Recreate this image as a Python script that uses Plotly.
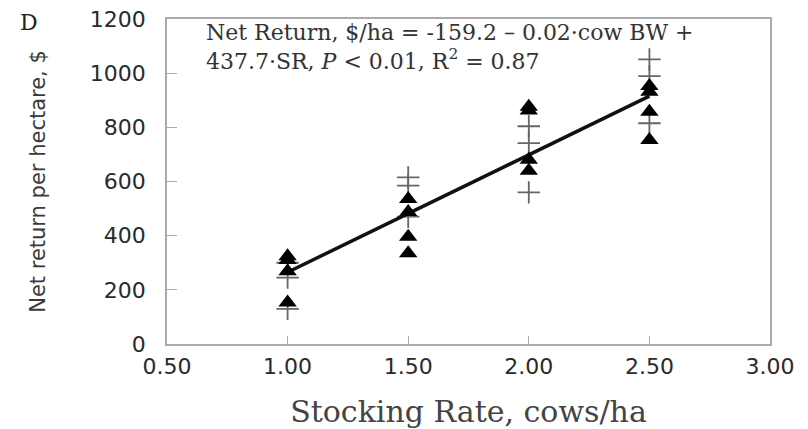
import plotly.graph_objects as go

# ---- data ----
tri_x = [1.0, 1.0, 1.0, 1.0, 1.5, 1.5, 1.5, 1.5, 2.0, 2.0, 2.0, 2.0, 2.5, 2.5, 2.5, 2.5]
tri_y = [324, 310, 269, 153, 535, 487, 396, 335, 876, 862, 680, 640, 953, 931, 858, 753]

plus_x = [1.0, 1.0, 1.0, 1.5, 1.5, 1.5, 2.0, 2.0, 2.0, 2.5, 2.5, 2.5]
plus_y = [300, 245, 130, 615, 585, 470, 804, 742, 560, 1051, 989, 815]

fit_x = [1.0, 1.5, 2.0, 2.5]
fit_y = [265, 482, 698, 915]

x_ticks = [0.5, 1.0, 1.5, 2.0, 2.5, 3.0]
x_tick_labels = ["0.50", "1.00", "1.50", "2.00", "2.50", "3.00"]
y_ticks = [0, 200, 400, 600, 800, 1000, 1200]

equation_lines = [
    "Net Return, $/ha = -159.2 \u2013 0.02\u00b7cow BW +",
    "437.7\u00b7SR, <i>P</i> < 0.01, R<sup>2</sup> = 0.87",
]

fig = go.Figure()

fig.add_trace(go.Scatter(
    x=plus_x, y=plus_y, mode="markers",
    marker=dict(symbol="cross-thin", size=16, color="#666",
                line=dict(width=1.8, color="#666")),
    showlegend=False, hoverinfo="skip"))

fig.add_trace(go.Scatter(
    x=fit_x, y=fit_y, mode="lines",
    line=dict(color="#111", width=3.5),
    showlegend=False, hoverinfo="skip"))

fig.add_trace(go.Scatter(
    x=tri_x, y=tri_y, mode="markers",
    marker=dict(symbol="triangle-up", size=16, color="#000",
                line=dict(width=0)),
    showlegend=False, hoverinfo="skip"))

tick_font = dict(family="DejaVu Sans", size=22, color="#2a2a2a")

fig.update_layout(
    width=800, height=421,
    margin=dict(l=159, r=38, t=11, b=85),
    paper_bgcolor="white", plot_bgcolor="white",
    xaxis=dict(
        range=[0.5, 3.0], tickvals=x_ticks, ticktext=x_tick_labels,
        automargin=False,
        showgrid=False, zeroline=False,
        showline=True, linecolor="#aaa", linewidth=1.5, mirror=True,
        ticks="inside", ticklen=8, tickcolor="#aaa", tickwidth=1.2,
        tickfont=tick_font, ticklabelstandoff=2, ticklabeloverflow="allow",
        title=dict(text="Stocking Rate, cows/ha",
                   font=dict(family="DejaVu Serif", size=30, color="#444"),
                   standoff=29),
    ),
    yaxis=dict(
        range=[0, 1200], tickvals=y_ticks,
        automargin=False,
        showgrid=False, zeroline=False,
        showline=True, linecolor="#aaa", linewidth=1.5, mirror=True,
        ticks="inside", ticklen=10, tickcolor="#aaa", tickwidth=1.2,
        tickfont=tick_font, ticklabelstandoff=15, ticklabeloverflow="allow",
        title=dict(text="Net return per hectare, $",
                   font=dict(family="DejaVu Sans", size=21, color="#3a3a3a"),
                   standoff=38),
    ),
)

fig.add_annotation(
    xref="paper", yref="paper", x=0.061, y=0.913, xanchor="left", yanchor="middle",
    text="<br>".join(equation_lines), align="left", showarrow=False,
    font=dict(family="DejaVu Serif", size=22, color="#333"))

fig.add_annotation(
    xref="paper", yref="paper", x=-0.229, y=0.99, xanchor="center", yanchor="middle",
    text="D", showarrow=False,
    font=dict(family="DejaVu Serif", size=22, color="#222"))

fig.write_html("out.html")
